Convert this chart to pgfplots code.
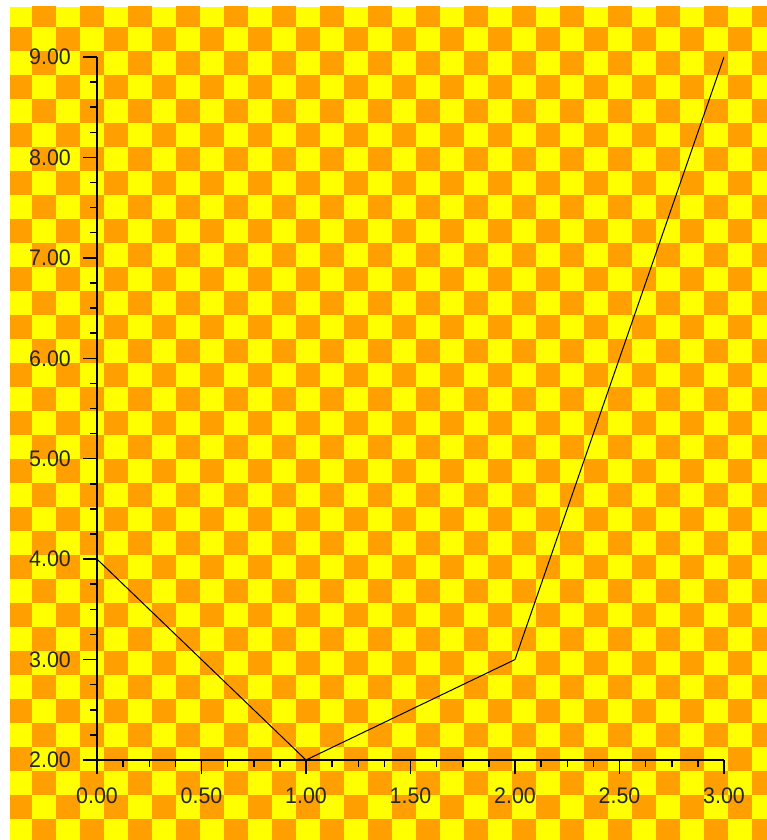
\documentclass[border=0pt]{standalone}
\usepackage{pgfplots}
\pgfplotsset{compat=1.18}
\usepackage{fontspec}
\setmainfont{Liberation Sans}[FakeStretch=0.95]
\definecolor{chkorange}{RGB}{255,160,0}
\definecolor{chkyellow}{RGB}{255,255,0}
\begin{document}
\begin{tikzpicture}[x=1pt,y=1pt]
\useasboundingbox (0,0) rectangle (767,840);
\begin{scope}
\clip (10,0) rectangle (767,833);
\fill[chkyellow] (10,0) rectangle (767,833);
\foreach \i in {0,...,31}{
  \foreach \j in {0,...,34}{
    \pgfmathtruncatemacro{\pp}{mod(\i+\j,2)}
    \ifnum\pp=1
      \fill[chkorange] ({8+24*\i},{837-24*\j}) rectangle ++(24,-24);
    \fi
  }}
\end{scope}
\begin{axis}[
  at={(97pt,80pt)}, anchor=south west,
  scale only axis, width=627pt, height=703pt,
  xmin=0, xmax=3, ymin=2, ymax=9,
  axis lines=left,
  axis line style={-, line width=1.5pt, black},
  tick align=outside,
  major tick length=14pt, minor tick length=7pt,
  minor tick num=3,
  tick style={black, line width=1.5pt},
  xtick={0,0.5,1,1.5,2,2.5,3},
  ytick={2,3,4,5,6,7,8,9},
  ticklabel style={font=\fontsize{22.5}{22.5}\selectfont, color=black!85, inner sep=0pt},
  xticklabel style={anchor=north, yshift=-14pt},
  yticklabel style={anchor=east, xshift=-12pt},
  /pgf/number format/.cd, fixed, fixed zerofill, precision=2, assume math mode=true,
]
\addplot[black, line width=1pt, mark=none] coordinates {(0,4) (1,2) (2,3) (3,9)};
\end{axis}
\end{tikzpicture}
\end{document}
